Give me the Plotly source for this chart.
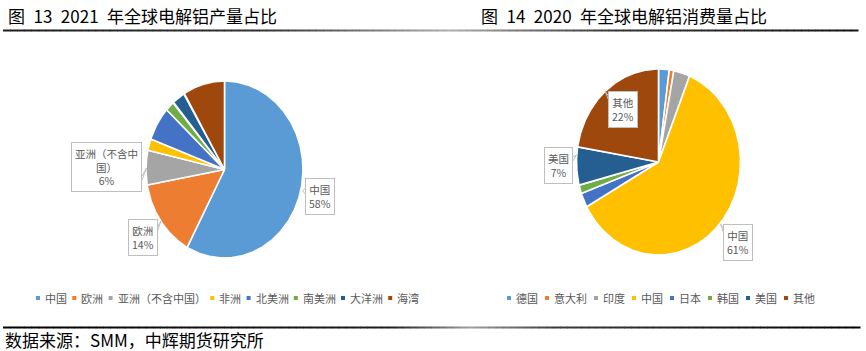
import numpy as np
import plotly.graph_objects as go

# ---------------- data ----------------
prod_labels = ["中国", "欧洲", "亚洲（不含中国）", "非洲", "北美洲", "南美洲", "大洋洲", "海湾"]
prod_values = [57.9, 14.3, 6.3, 2.1, 6.2, 1.8, 2.7, 8.7]

cons_labels = ["德国", "意大利", "印度", "中国", "日本", "韩国", "美国", "其他"]
cons_values = [2.1, 0.9, 3.2, 60.8, 2.5, 1.5, 6.6, 22.4]

title_left = "图\u200213\u20022021\u2002年全球电解铝产量占比"
title_right = "图\u200214\u20022020\u2002年全球电解铝消费量占比"
source_text = "数据来源：SMM，中辉期货研究所"

# ---------------- style ----------------
palette = ["#5B9BD5", "#ED7D31", "#A5A5A5", "#FFC000", "#4472C4", "#70AD47", "#255E91", "#9E480E"]
FONT = "Noto Sans CJK SC"
GRAY_TXT = "#595959"

W, H = 866, 351
fig = go.Figure()
shapes = []
annotations = []


def add_pie(values, labels, cx, cy, rx, ry):
    total = float(sum(values))
    start = 0.0
    for v, lab, col in zip(values, labels, palette):
        end = start + v / total * 360.0
        n = max(3, int((end - start) / 0.5) + 1)
        th = np.radians(np.linspace(start, end, n))
        xs = np.concatenate([[cx], cx + rx * np.sin(th), [cx]])
        ys = np.concatenate([[cy], cy - ry * np.cos(th), [cy]])
        fig.add_trace(go.Scatter(
            x=xs, y=ys, mode="lines", fill="toself", fillcolor=col,
            line=dict(color="white", width=1.6), name=lab,
            hoverinfo="name", showlegend=False))
        start = end


def wrap(name, n=6):
    return "<br>".join(name[i:i + n] for i in range(0, len(name), n))


def add_label(name, value, x, y, pointer):
    annotations.append(dict(
        x=x, y=y, xref="x", yref="y", showarrow=False,
        text=f"{wrap(name)}<br>{round(value)}%", align="center",
        font=dict(family=FONT, size=10.5, color=GRAY_TXT),
        bordercolor="#BFBFBF", borderwidth=1, borderpad=3, bgcolor="white"))
    shapes.append(dict(type="path", path=pointer, xref="x", yref="y",
                       line=dict(color="#BFBFBF", width=1)))


def add_legend(labels, x0, y, base=15.0, per_char=11.0):
    x = x0
    for lab, col in zip(labels, palette):
        shapes.append(dict(type="rect", xref="x", yref="y",
                           x0=x, x1=x + 4, y0=y - 2, y1=y + 2,
                           fillcolor=col, line=dict(width=0)))
        annotations.append(dict(
            x=x + 7, y=y, xref="x", yref="y", showarrow=False,
            xanchor="left", yanchor="middle", text=lab,
            font=dict(family=FONT, size=11, color=GRAY_TXT)))
        x += base + per_char * len(lab)


def gradient_line(y, stops, width=2, nseg=120):
    xs_stop = [s[0] for s in stops]
    cs = [s[1] for s in stops]
    xs = np.linspace(xs_stop[0], xs_stop[-1], nseg + 1)
    grays = np.interp((xs[:-1] + xs[1:]) / 2, xs_stop, cs)
    for a, b, g in zip(xs[:-1], xs[1:], grays):
        g = int(g)
        shapes.append(dict(type="line", xref="x", yref="y", x0=a, x1=b + 0.5,
                           y0=y, y1=y, line=dict(color=f"rgb({g},{g},{g})", width=width)))


# pies
add_pie(prod_values, prod_labels, 224.5, 169.5, 78.5, 88.5)
add_pie(cons_values, cons_labels, 658.5, 162.0, 82.0, 93.0)

# data labels (callouts)
pv = dict(zip(prod_labels, prod_values))
cv = dict(zip(cons_labels, cons_values))
add_label("中国", pv["中国"], 320.3, 196.5, "M306.5,187 L302.5,191 L306.5,195")
add_label("欧洲", pv["欧洲"], 143.3, 237.5, "M157.5,231 L161,221 L157.5,227")
add_label("亚洲（不含中国）", pv["亚洲（不含中国）"], 106.7, 166.7, "M142,180 L146.5,168 L142,176")
add_label("其他", cv["其他"], 622.5, 109.2, "M608.5,100 L605,91 L608.5,96")
add_label("美国", cv["美国"], 558.8, 165.0, "M572.7,161 L576.5,155 L572.7,157")
add_label("中国", cv["中国"], 737.5, 242.5, "M723.3,232 L720.5,224 L723.3,228")

# legends
add_legend(prod_labels, 36.0, 298.0, base=14.5, per_char=10.9)
add_legend(cons_labels, 507.0, 298.0, base=16.0, per_char=11.0)

# titles and source
annotations.append(dict(x=6, y=15, xref="x", yref="y", showarrow=False, xanchor="left",
                        yanchor="middle", text=title_left,
                        font=dict(family=FONT, size=17, color="#000000")))
annotations.append(dict(x=479, y=15, xref="x", yref="y", showarrow=False, xanchor="left",
                        yanchor="middle", text=title_right,
                        font=dict(family=FONT, size=17, color="#000000")))
annotations.append(dict(x=4, y=339.5, xref="x", yref="y", showarrow=False, xanchor="left",
                        yanchor="middle", text=source_text, borderpad=0,
                        font=dict(family=FONT, size=17, color="#000000")))

# rules
gradient_line(30.5, [(3, 30), (260, 50), (450, 175), (520, 120), (620, 50), (858, 20)], width=2)
gradient_line(327.5, [(3, 0), (390, 30), (470, 160), (555, 60), (860, 0)], width=2)

fig.update_layout(
    width=W, height=H, margin=dict(l=0, r=0, t=0, b=0),
    paper_bgcolor="white", plot_bgcolor="white", showlegend=False,
    xaxis=dict(range=[0, W], visible=False, fixedrange=True),
    yaxis=dict(range=[H, 0], visible=False, fixedrange=True),
    shapes=shapes, annotations=annotations,
)

fig.write_html("out.html")
